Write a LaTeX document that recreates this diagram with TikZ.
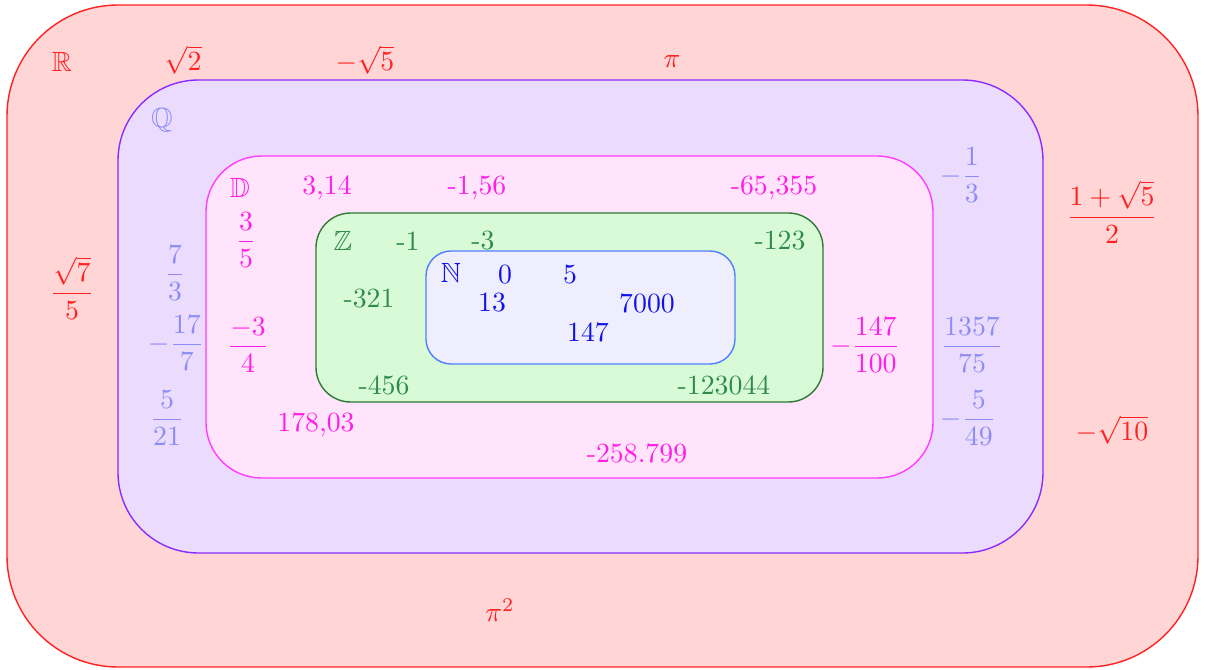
\documentclass[tikz,border=0pt]{standalone}
\usepackage{amsmath}
\usepackage{amssymb}
\usepackage{amsfonts}
\usepackage{tikz}
\definecolor{realfill}{HTML}{FFD5D5}
\definecolor{realline}{HTML}{FF2020}
\definecolor{ratfill}{HTML}{EBDBFC}
\definecolor{ratline}{HTML}{8A2BFF}
\definecolor{rattext}{HTML}{8C8CF5}
\definecolor{decfill}{HTML}{FFE4FC}
\definecolor{decline}{HTML}{FF3CFF}
\definecolor{dectext}{HTML}{FF1EE6}
\definecolor{intfill}{HTML}{D9FAD6}
\definecolor{intline}{HTML}{2E7A32}
\definecolor{inttext}{HTML}{2E8B4A}
\definecolor{natfill}{HTML}{EEEEFE}
\definecolor{natline}{HTML}{4F7FFF}
\definecolor{nattext}{HTML}{1010E8}

\begin{document}
\begin{tikzpicture}[x=0.36pt,y=-0.36pt,line width=0.5pt,
  real set/.style={draw=realline,fill=realfill,rounded corners=40pt},
  rat set/.style={draw=ratline,fill=ratfill,rounded corners=29pt},
  dec set/.style={draw=decline,fill=decfill,rounded corners=20pt},
  int set/.style={draw=intline,fill=intfill,rounded corners=12.5pt},
  nat set/.style={draw=natline,fill=natfill,rounded corners=9pt},
  real/.style={text=realline,inner sep=1pt},
  rat/.style={text=rattext,inner sep=1pt},
  dec/.style={text=dectext,inner sep=1pt},
  int/.style={text=inttext,inner sep=1pt},
  nat/.style={text=nattext,inner sep=1pt}]

  \useasboundingbox (0,0) rectangle (1208,670);

  % the nested sets
  \draw[real set] (7,5) rectangle (1198,667);
  \draw[rat set] (118,80) rectangle (1043,553);
  \draw[dec set] (206,156) rectangle (933,478);
  \draw[int set] (316,213) rectangle (823,402);
  \draw[nat set] (426,251) rectangle (735,364);

  % R
  \node[real] (R) at (62,62) {$\mathbb{R}$};
  \node[real] (r1) at (183,60) {$\sqrt{2}$};
  \node[real] (r2) at (365,60) {$-\sqrt{5}$};
  \node[real] (r3) at (672,62) {$\pi$};
  \node[real] (r4) at (1112,212) {$\dfrac{1+\sqrt{5}}{2}$};
  \node[real] (r5) at (72,288) {$\dfrac{\sqrt{7}}{5}$};
  \node[real] (r6) at (1112,430) {$-\sqrt{10}$};
  \node[real] (r7) at (500,610) {$\pi^2$};

  % Q
  \node[rat] (Q) at (162,120) {$\mathbb{Q}$};
  \node[rat] (q1) at (961,175) {$-\dfrac{1}{3}$};
  \node[rat] (q2) at (175,273) {$\dfrac{7}{3}$};
  \node[rat] (q3) at (176,343) {$-\dfrac{17}{7}$};
  \node[rat] (q4) at (167,418) {$\dfrac{5}{21}$};
  \node[rat] (q5) at (972,345) {$\dfrac{1357}{75}$};
  \node[rat] (q6) at (968,418) {$-\dfrac{5}{49}$};

  % D
  \node[dec] (D) at (240,188) {$\mathbb{D}$};
  \node[dec] (d1) at (327,188) {3,14};
  \node[dec] (d2) at (477,188) {-1,56};
  \node[dec] (d3) at (774,188) {-65,355};
  \node[dec] (d4) at (246,240) {$\dfrac{3}{5}$};
  \node[dec] (d5) at (248,345) {$\dfrac{-3}{4}$};
  \node[dec] (d6) at (865,345) {$-\dfrac{147}{100}$};
  \node[dec] (d7) at (316,425) {178,03};
  \node[dec] (d8) at (637,453) {-258.799};

  % Z
  \node[int] (Z) at (343,241) {$\mathbb{Z}$};
  \node[int] (z1) at (408,241) {-1};
  \node[int] (z2) at (483,241) {-3};
  \node[int] (z3) at (780,241) {-123};
  \node[int] (z4) at (369,299) {-321};
  \node[int] (z5) at (384,385) {-456};
  \node[int] (z6) at (724,385) {-123044};

  % N
  \node[nat] (N) at (451,273) {$\mathbb{N}$};
  \node[nat] (n1) at (505,275) {0};
  \node[nat] (n2) at (570,275) {5};
  \node[nat] (n3) at (492,303) {13};
  \node[nat] (n4) at (647,303) {7000};
  \node[nat] (n5) at (588,332) {147};
\end{tikzpicture}
\end{document}
